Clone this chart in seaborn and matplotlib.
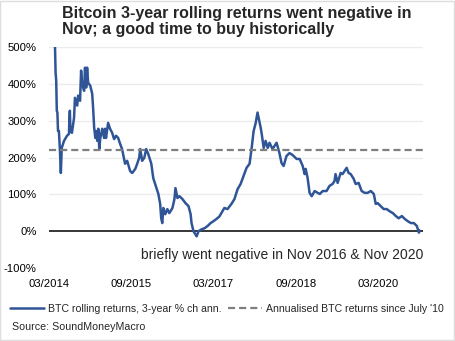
import matplotlib
matplotlib.use("Agg")
import matplotlib.pyplot as plt
import matplotlib.dates as mdates
from matplotlib.lines import Line2D
from matplotlib.patches import Rectangle
import seaborn as sns
import pandas as pd

dates = [
    "2014-04-10", "2014-04-14", "2014-04-18", "2014-04-22", "2014-04-26", "2014-04-30",
    "2014-05-06", "2014-05-13", "2014-05-19", "2014-05-25", "2014-06-09", "2014-06-29",
    "2014-07-12", "2014-07-15", "2014-07-18", "2014-07-22", "2014-08-01", "2014-08-15",
    "2014-08-21", "2014-09-05", "2014-09-11", "2014-09-24", "2014-10-01", "2014-10-08",
    "2014-10-21", "2014-10-27", "2014-11-04", "2014-11-10", "2014-11-17", "2014-12-01",
    "2014-12-14", "2014-12-20", "2014-12-27", "2015-01-04", "2015-01-10", "2015-01-17",
    "2015-01-24", "2015-01-30", "2015-02-06", "2015-02-19", "2015-03-03", "2015-03-10",
    "2015-03-16", "2015-03-30", "2015-04-12", "2015-04-26", "2015-05-09", "2015-05-22",
    "2015-06-05", "2015-06-18", "2015-07-01", "2015-07-15", "2015-07-21", "2015-08-04",
    "2015-08-24", "2015-09-07", "2015-09-27", "2015-10-10", "2015-10-23", "2015-10-30",
    "2015-11-12", "2015-11-26", "2015-12-09", "2015-12-22", "2016-01-12", "2016-01-25",
    "2016-02-15", "2016-02-28", "2016-03-11", "2016-03-18", "2016-03-25", "2016-04-01",
    "2016-04-14", "2016-04-28", "2016-05-11", "2016-06-01", "2016-06-14", "2016-06-21",
    "2016-07-04", "2016-07-17", "2016-08-07", "2016-08-27", "2016-09-16", "2016-09-30",
    "2016-10-06", "2016-10-19", "2016-11-09", "2016-11-22", "2016-12-12", "2017-01-01",
    "2017-01-21", "2017-02-10", "2017-03-01", "2017-03-21", "2017-04-10", "2017-05-13",
    "2017-06-03", "2017-06-29", "2017-07-19", "2017-08-09", "2017-08-29", "2017-09-18",
    "2017-10-08", "2017-10-28", "2017-11-11", "2017-11-24", "2017-12-07", "2017-12-20",
    "2017-12-27", "2018-01-10", "2018-01-17", "2018-01-30", "2018-02-12", "2018-02-26",
    "2018-03-10", "2018-03-30", "2018-04-26", "2018-05-15", "2018-05-29", "2018-06-12",
    "2018-07-01", "2018-07-21", "2018-08-10", "2018-09-07", "2018-09-27", "2018-10-17",
    "2018-10-30", "2018-11-06", "2018-11-19", "2018-12-02", "2018-12-16", "2019-01-05",
    "2019-01-25", "2019-02-08", "2019-02-28", "2019-03-25", "2019-04-14", "2019-05-04",
    "2019-05-17", "2019-05-24", "2019-06-07", "2019-06-27", "2019-07-10", "2019-07-23",
    "2019-08-06", "2019-08-19", "2019-09-02", "2019-09-22", "2019-10-05", "2019-10-25",
    "2019-11-14", "2019-12-04", "2019-12-24", "2020-01-14", "2020-02-03", "2020-02-16",
    "2020-02-29", "2020-03-20", "2020-04-09", "2020-04-29", "2020-05-19", "2020-06-09",
    "2020-06-29", "2020-07-18", "2020-08-08", "2020-08-28", "2020-09-17", "2020-10-07",
    "2020-10-27", "2020-11-16", "2020-11-25", "2020-11-30", "2020-12-03",
]

btc_rolling = [
    500, 430, 409, 327, 322, 272,
    272, 218, 158, 226, 245, 259,
    264, 305, 327, 272, 267, 308,
    362, 341, 368, 354, 436, 400,
    381, 444, 390, 444, 403, 395,
    373, 335, 281, 253, 272, 245,
    278, 223, 253, 278, 253, 278,
    253, 294, 278, 267, 250, 259,
    253, 237, 223, 196, 183, 191,
    163, 158, 169, 183, 199, 223,
    191, 199, 223, 210, 183, 144,
    117, 101, 74, 35, 22, 63,
    46, 60, 49, 63, 87, 117,
    90, 95, 87, 76, 68, 46,
    22, 0, -14, 0, 5, 8,
    14, 22, 27, 33, 40, 63,
    60, 74, 87, 114, 128, 150,
    172, 183, 226, 272, 292, 322,
    308, 281, 264, 226, 245, 226,
    240, 223, 240, 212, 185, 177,
    204, 212, 207, 196, 196, 177,
    155, 169, 144, 104, 95, 109,
    104, 101, 109, 109, 123, 128,
    136, 155, 131, 158, 155, 163,
    172, 158, 155, 142, 128, 131,
    109, 104, 104, 109, 101, 74,
    76, 68, 60, 60, 54, 49,
    41, 35, 41, 33, 27, 22,
    22, 14, 3, -4, 2,
]

annualised_since_2010 = 221
x_ticks = ["2014-03-01", "2015-09-01", "2017-03-01", "2018-09-01", "2020-03-01"]
y_ticks = [-100, 0, 100, 200, 300, 400, 500]

title = "Bitcoin 3-year rolling returns went negative in\nNov; a good time to buy historically"
annotation = "briefly went negative in Nov 2016 & Nov 2020"
label_btc = "BTC rolling returns, 3-year % ch ann."
label_avg = "Annualised BTC returns since July '10"
source = "Source: SoundMoneyMacro"

sns.set_style("white")
plt.rcParams["font.family"] = ["Liberation Sans", "DejaVu Sans"]

df = pd.DataFrame({"date": pd.to_datetime(dates), "ret": btc_rolling})

W, H = 455, 341
fig = plt.figure(figsize=(W / 100, H / 100), dpi=100)
ax = fig.add_axes([49 / W, 1 - 268 / H, (423 - 49) / W, (268 - 47) / H])

blue = "#2F5597"
grey = "#7F7F7F"

xmin, xmax = pd.Timestamp("2014-03-01"), pd.Timestamp("2020-12-27")

for v in y_ticks[2:]:
    ax.axhline(v, color="#EBEBEB", lw=1, zorder=0)
ax.axhline(0, color="black", lw=1.1, zorder=1)

sns.lineplot(data=df, x="date", y="ret", ax=ax, color=blue, lw=1.8, zorder=3)
avg_df = pd.DataFrame({"date": [xmin, xmax], "ret": [annualised_since_2010] * 2})
sns.lineplot(data=avg_df, x="date", y="ret", ax=ax, color=grey, lw=1.6,
             linestyle=(0, (3.2, 1.8)), zorder=4)

ax.set_xlim(xmin, xmax)
ax.set_ylim(-100, 500)
ax.set_yticks(y_ticks)
ax.set_yticklabels([f"{v}%" for v in y_ticks])
ax.set_xticks(pd.to_datetime(x_ticks))
ax.xaxis.set_major_formatter(mdates.DateFormatter("%m/%Y"))
ax.tick_params(axis="both", length=0, labelsize=8.1, colors="black")
ax.tick_params(axis="y", pad=9)
ax.tick_params(axis="x", pad=8)
ax.set_xlabel("")
ax.set_ylabel("")
for s in ax.spines.values():
    s.set_visible(False)

fig.text(423 / W, 1 - 255 / H, annotation, ha="right", va="center", fontsize=10)

fig.text(62 / W, 1 - 34 / H, title, ha="left", va="baseline", fontsize=11.5,
         fontweight="bold", linespacing=1.12)

handles = [Line2D([], [], color=blue, lw=1.8),
           Line2D([], [], color=grey, lw=1.6, linestyle=(0, (3.2, 1.8)))]
fig.legend(handles, [label_btc, label_avg], loc="center left",
           bbox_to_anchor=(10 / W, 1 - 309 / H), ncol=2, frameon=False,
           fontsize=7.6, handlelength=3.2, handletextpad=0.4, columnspacing=0.6,
           borderpad=0, borderaxespad=0)

fig.text(12 / W, 1 - 327 / H, source, ha="left", va="center", fontsize=7.7)

fig.patches.append(Rectangle((0.001, 0.002), 0.996, 0.995, transform=fig.transFigure,
                             fill=False, edgecolor="#DDDDDD", lw=1))

fig.savefig("out.png", dpi=100)
